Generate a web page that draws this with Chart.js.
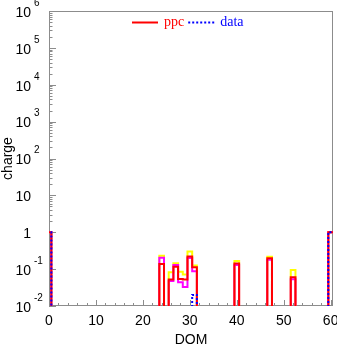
<!DOCTYPE html>
<html><head><meta charset="utf-8">
<script src="https://cdn.jsdelivr.net/npm/chart.js@4"></script>
<style>html,body{margin:0;padding:0;background:#fff}#wrap{width:337px;height:344px}</style>
</head><body>
<div id="wrap"><canvas id="c"></canvas></div>
<script>
// ---- data ----
const domBins      = [0,    24,    26,    27,    28,    29,    30,   31,    40,    47,    52,    60];
const ppcUpper     = [1,    0.23,  0.082, 0.144, 0.085, 0.072, 0.30, 0.125, 0.166, 0.217, 0.095, 1];   // yellow band
const ppcMiddle    = [1,    0.205, 0.048, 0.129, 0.044, 0.033, 0.20, 0.087, 0.129, 0.18,  0.053, 1];   // magenta band
const ppcValues    = [1,    0.137, 0.052, 0.116, 0.054, 0.052, 0.22, 0.112, 0.142, 0.196, 0.06,  1];   // ppc (red)
const dataValues   = [1,    0,     0,     0,     0,     0,     0,    0.02,  0,     0,     0,     1];   // data (blue)
const xTickLabels  = [0, 10, 20, 30, 40, 50, 60];
const yTickExps    = [-2, -1, 0, 1, 2, 3, 4, 5, 6];
const legendLabels = ['ppc', 'data'];

const DOM_MAX = 60;
const FLOOR = 1e-3;
function stepPoints(vals){
  const m = new Map(domBins.map((b,i)=>[b, vals[i]]));
  const pts = [];
  for (let b = 0; b <= DOM_MAX; b++){
    const v = m.get(b);
    pts.push({x: b - 0.5, y: (v && v > 0) ? v : FLOOR});
  }
  const last = m.get(DOM_MAX);
  pts.push({x: DOM_MAX + 0.5, y: (last && last > 0) ? last : FLOOR});
  return pts;
}

const AXIS = '#8c8c8c';
const SANS = '"Liberation Sans", Arial, Helvetica, sans-serif';
const SERIF = '"Liberation Serif", "Times New Roman", serif';

const decor = {
  id: 'decor',
  beforeDatasetsDraw(chart){
    const {ctx, chartArea: a, scales: {x, y}} = chart;
    ctx.save();
    ctx.strokeStyle = AXIS; ctx.lineWidth = 1;
    ctx.strokeRect(a.left + 0.5, a.top + 0.5, a.right - a.left - 1, a.bottom - a.top - 1);
    ctx.beginPath();
    for (let v = 0; v <= DOM_MAX; v += 2){
      const px = Math.round(x.getPixelForValue(v)) + 0.5;
      const len = (v % 10 === 0) ? 6 : 3;
      ctx.moveTo(px, a.bottom); ctx.lineTo(px, a.bottom - len);
    }
    for (let e = yTickExps[0]; e <= yTickExps[yTickExps.length-1]; e++){
      for (let k = 1; k <= 9; k++){
        const v = k * Math.pow(10, e);
        if (v > y.max * 1.0001) break;
        const py = Math.round(y.getPixelForValue(v)) + 0.5;
        const len = (k === 1) ? 7 : 3.5;
        ctx.moveTo(a.left, py); ctx.lineTo(a.left + len, py);
      }
    }
    ctx.stroke();
    ctx.restore();
  },
  afterDraw(chart){
    const {ctx, chartArea: a, scales: {y}} = chart;
    ctx.save();
    ctx.fillStyle = '#000';
    ctx.font = '10px ' + SANS;
    ctx.textAlign = 'left'; ctx.textBaseline = 'middle';
    yTickExps.forEach(e => {
      if (e === 0 || e === 1) return;
      const py = y.getPixelForValue(Math.pow(10, e));
      ctx.fillText(String(e), 34, py - 8);
    });
    const cx = (a.left + a.right) / 2;
    let lx = cx - 59, ly = a.top + 11.5;
    ctx.lineWidth = 2;
    ctx.strokeStyle = '#ff0000'; ctx.setLineDash([]);
    ctx.beginPath(); ctx.moveTo(lx, ly); ctx.lineTo(lx + 26, ly); ctx.stroke();
    ctx.font = '14px ' + SERIF; ctx.textBaseline = 'middle';
    ctx.fillStyle = '#ff0000'; ctx.fillText(legendLabels[0], lx + 32, ly);
    lx += 32 + ctx.measureText(legendLabels[0]).width + 4;
    ctx.strokeStyle = '#0000ff'; ctx.setLineDash([2, 2]);
    ctx.beginPath(); ctx.moveTo(lx, ly); ctx.lineTo(lx + 26, ly); ctx.stroke();
    ctx.setLineDash([]);
    ctx.fillStyle = '#0000ff'; ctx.fillText(legendLabels[1], lx + 32, ly);
    ctx.restore();
  }
};

const common = {pointRadius: 0, pointHoverRadius: 0, borderWidth: 2, fill: false, stepped: 'before', tension: 0};

new Chart(document.getElementById('c'), {
  type: 'line',
  data: {
    datasets: [
      Object.assign({label: 'data', data: stepPoints(dataValues), borderColor: '#0000ff', borderDash: [2, 2], order: 0}, common),
      Object.assign({label: 'ppc', data: stepPoints(ppcValues), borderColor: '#ff0000', order: 1}, common),
      Object.assign({label: 'ppc mid', data: stepPoints(ppcMiddle), borderColor: '#ff00ff', order: 2}, common),
      Object.assign({label: 'ppc upper', data: stepPoints(ppcUpper), borderColor: '#ffff00', order: 3}, common)
    ]
  },
  options: {
    responsive: true, maintainAspectRatio: false, animation: false,
    layout: {padding: {top: 11, right: 4, left: 0, bottom: 0}},
    plugins: {legend: {display: false}, tooltip: {enabled: false}},
    scales: {
      x: {
        type: 'linear', min: 0, max: DOM_MAX + 0.5,
        afterBuildTicks: s => { s.ticks = xTickLabels.map(v => ({value: v})); },
        afterFit: s => { s.height = 38; s.paddingLeft = 0; s.paddingRight = 0; },
        grid: {display: false, drawTicks: false},
        border: {display: false},
        ticks: {color: '#000', font: {family: SANS, size: 14}, padding: 7, maxRotation: 0, autoSkip: false},
        title: {display: true, text: 'DOM', color: '#000', font: {family: SANS, size: 14}, padding: {top: 0, bottom: -5}}
      },
      y: {
        type: 'logarithmic', min: 1e-2, max: 1e6,
        afterBuildTicks: s => { s.ticks = yTickExps.map(e => ({value: Math.pow(10, e)})); },
        afterFit: s => { s.width = 49; s.paddingTop = 0; s.paddingBottom = 0; },
        grid: {display: false, drawTicks: false},
        border: {display: false},
        ticks: {
          color: '#000', font: {family: SANS, size: 14}, padding: 18, labelOffset: 2, autoSkip: false,
          callback: v => { const e = Math.round(Math.log10(v)); return e === 0 ? '1' : '10'; }
        },
        title: {display: true, text: 'charge', color: '#000', font: {family: SANS, size: 14}, padding: {top: 0, bottom: 0}}
      }
    }
  },
  plugins: [decor]
});
</script>
</body></html>
